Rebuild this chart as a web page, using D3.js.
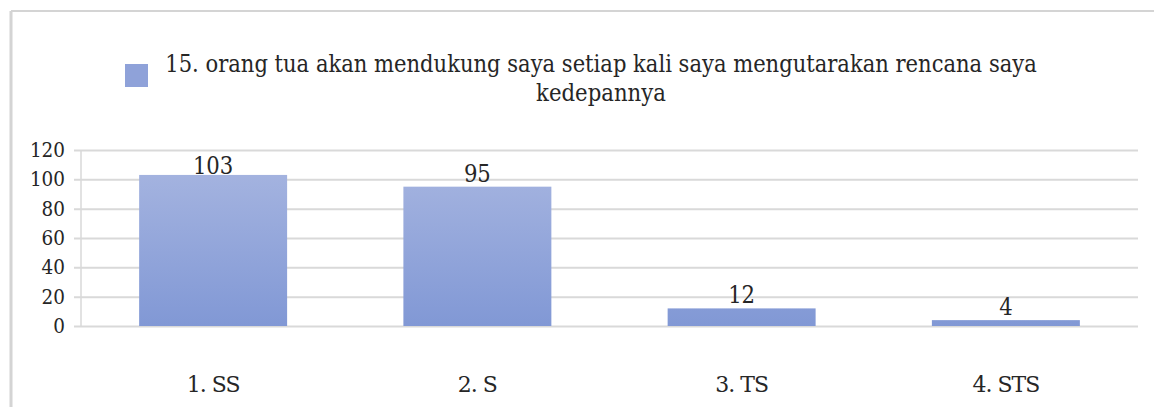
<!DOCTYPE html>
<html>
<head>
<meta charset="utf-8">
<script src="https://cdn.jsdelivr.net/npm/d3@7/dist/d3.min.js"></script>
<style>
  body { margin: 0; background: #fff; }
</style>
</head>
<body>
<div id="chart"></div>
<script>
// data
var categories = ["1. SS", "2. S", "3. TS", "4. STS"];
var counts = [103, 95, 12, 4];
var yTicks = [0, 20, 40, 60, 80, 100, 120];
var legendLines = ["15. orang tua akan mendukung saya setiap kali saya mengutarakan rencana saya", "kedepannya"];

var width = 1154, height = 407;
var margin = {top: 150, right: 16, bottom: 81, left: 81};
var serif = "'DejaVu Serif', 'Liberation Serif', serif";

var svg = d3.select("#chart")
  .append("svg")
  .attr("width", width)
  .attr("height", height)
  .attr("font-family", serif);

// frame of the pasted picture
svg.append("line")
  .attr("x1", 11).attr("x2", width).attr("y1", 11).attr("y2", 11)
  .style("stroke", "#d4d4d4").style("stroke-width", 2);
svg.append("line")
  .attr("x1", 11).attr("x2", 11).attr("y1", 11).attr("y2", height)
  .style("stroke", "#d4d4d4").style("stroke-width", 3);

var x = d3.scaleBand()
  .domain(categories)
  .range([margin.left, width - margin.right])
  .paddingInner(0.44)
  .paddingOuter(0.22);

var y = d3.scaleLinear()
  .domain([0, 120])
  .range([height - margin.bottom, margin.top]);

// gradient for the bars
var grad = svg.append("defs").append("linearGradient")
  .attr("id", "barGrad")
  .attr("gradientUnits", "userSpaceOnUse")
  .attr("x1", 0).attr("x2", 0)
  .attr("y1", y(120)).attr("y2", y(0));
grad.append("stop").attr("offset", "0%").attr("stop-color", "#a9b7e1");
grad.append("stop").attr("offset", "100%").attr("stop-color", "#8198d5");

// Y axis with gridlines
var yAxis = svg.append("g")
  .attr("transform", "translate(" + margin.left + ",0)")
  .call(d3.axisLeft(y)
    .tickValues(yTicks)
    .tickSize(-(width - margin.right - margin.left))
    .tickPadding(16))
  .attr("font-family", serif);
yAxis.select(".domain").remove();
yAxis.selectAll(".tick line")
  .attr("x1", -7)
  .style("stroke", "#d9d9d9")
  .style("stroke-width", 2);
yAxis.selectAll(".tick text")
  .style("font-size", "20px")
  .attr("textLength", function(d) { return String(d).length * 11.7; })
  .attr("lengthAdjust", "spacingAndGlyphs")
  .attr("fill", "#262626");

// vertical axis line
svg.append("line")
  .attr("x1", margin.left).attr("x2", margin.left)
  .attr("y1", y(120)).attr("y2", y(0))
  .style("stroke", "#d9d9d9").style("stroke-width", 1.5);

// bars
svg.selectAll("myBars")
  .data(counts)
  .enter()
  .append("rect")
    .attr("x", function(d, i) { return x(categories[i]); })
    .attr("y", function(d) { return y(d); })
    .attr("width", x.bandwidth())
    .attr("height", function(d) { return y(0) - y(d); })
    .style("fill", "url(#barGrad)");

// value labels (kept inside the plot area like Excel does)
svg.selectAll("myValues")
  .data(counts)
  .enter()
  .append("text")
    .attr("x", function(d, i) { return x(categories[i]) + x.bandwidth() / 2; })
    .attr("y", function(d) { return Math.max(y(d) - 5, y(120) + 24); })
    .attr("text-anchor", "middle")
    .attr("textLength", function(d) { return String(d).length * 13.5; })
    .attr("lengthAdjust", "spacingAndGlyphs")
    .style("font-size", "24px")
    .style("fill", "#262626")
    .text(function(d) { return d; });

// category labels
svg.selectAll("myCats")
  .data(categories)
  .enter()
  .append("text")
    .attr("x", function(d) { return x(d) + x.bandwidth() / 2; })
    .attr("y", 392)
    .attr("text-anchor", "middle")
    .style("font-size", "22px")
    .style("letter-spacing", "-1px")
    .style("fill", "#262626")
    .text(function(d) { return d; });

// legend
svg.append("rect")
  .attr("x", 125).attr("y", 64)
  .attr("width", 23).attr("height", 23)
  .style("fill", "#8fa2d9");

// legend text is narrower than the font, so squeeze it horizontally
var legendWidths = [872, 130];
svg.selectAll("myLegend")
  .data(legendLines)
  .enter()
  .append("text")
    .attr("text-anchor", "middle")
    .style("font-size", "24px")
    .style("fill", "#262626")
    .text(function(d) { return d; })
    .attr("transform", function(d, i) {
      var sx = Math.min(1, legendWidths[i] / this.getComputedTextLength());
      return "translate(601," + (72 + i * 29) + ") scale(" + sx + ",1)";
    });
</script>
</body>
</html>
